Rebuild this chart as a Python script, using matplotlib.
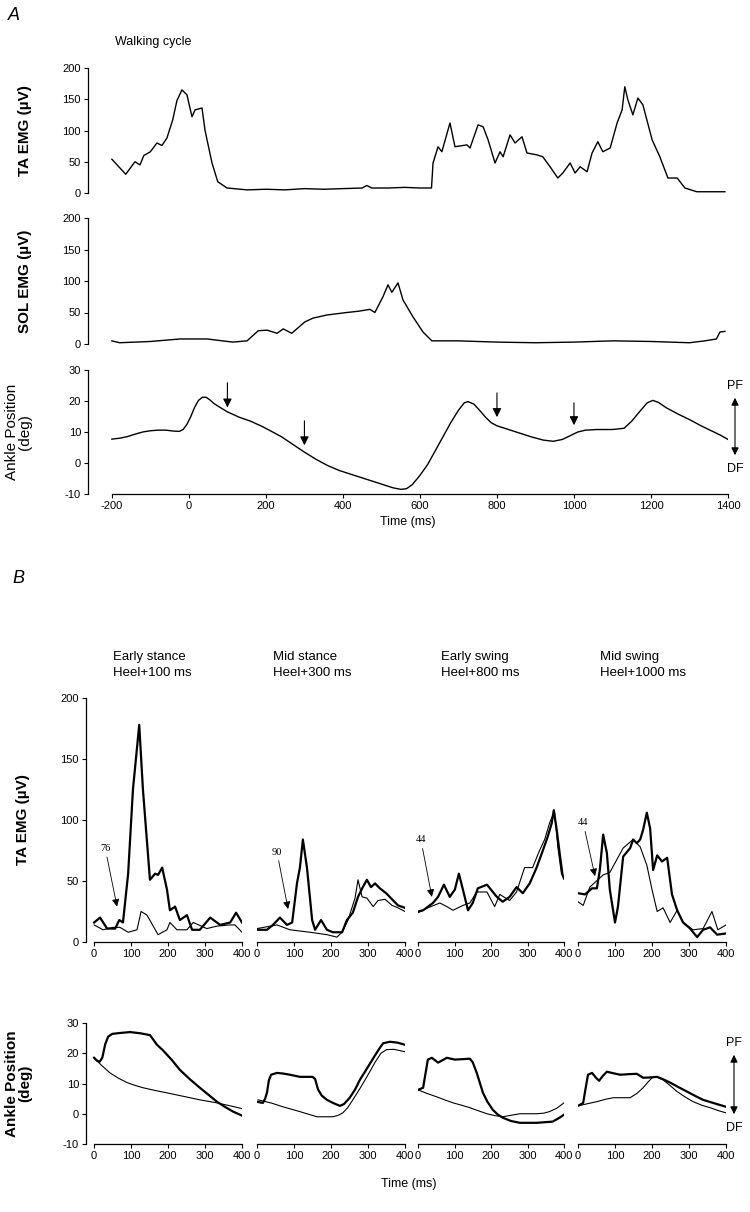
import matplotlib
matplotlib.use("Agg")
import matplotlib.pyplot as plt
import numpy as np

W, H = 750, 1212
NARROW = ['Liberation Sans Narrow', 'Liberation Sans', 'DejaVu Sans']
ARIAL = ['Liberation Sans', 'DejaVu Sans']
SERIF = ['Liberation Serif', 'DejaVu Serif']
plt.rcParams['font.family'] = NARROW
plt.rcParams['axes.unicode_minus'] = False

# ---- panel A: walking cycle ----
ta_a_t = [-200, -164, -140, -127, -117, -100, -83, -70, -57, -42, -31, -18, -5, 8, 16, 34, 42, 60, 75, 99,
          151, 200, 250, 300, 350, 400, 450, 462, 475, 520, 560, 600, 630,
          634, 647, 657, 678, 691, 722, 730, 751, 764, 777, 795, 808, 816, 834, 847, 865, 878, 904, 919,
          938, 958, 971, 990, 1003, 1016, 1034, 1047, 1062, 1075, 1094, 1112, 1125, 1132, 1140, 1153,
          1166, 1179, 1203, 1223, 1244, 1268, 1288, 1319, 1360, 1392]
ta_a_v = [54, 30, 50, 45, 60, 66, 80, 76, 88, 117, 148, 165, 157, 122, 133, 136, 100, 48, 18, 8,
          5, 6, 5, 7, 6, 7, 8, 12, 8, 8, 9, 8, 8,
          48, 74, 66, 112, 74, 77, 72, 109, 106, 85, 48, 66, 58, 93, 80, 90, 64, 61, 58,
          42, 24, 32, 48, 32, 42, 34, 64, 82, 66, 72, 112, 133, 170, 149, 125,
          152, 141, 85, 58, 24, 24, 8, 2, 2, 2]

sol_a_t = [-200, -180, -100, -23, 47, 114, 151, 180, 203, 229, 245, 267, 301, 322, 358, 384, 410, 440, 470,
           483, 504, 517, 527, 543, 556, 582, 608, 631, 700, 800, 900, 1000, 1100, 1200, 1300, 1340, 1370, 1379, 1392]
sol_a_v = [5, 2, 4, 8, 8, 3, 5, 21, 22, 17, 24, 17, 35, 41, 46, 48, 50, 52, 55,
           50, 75, 94, 82, 97, 70, 43, 19, 5, 5, 3, 2, 3, 5, 4, 2, 5, 8, 19, 20]

ank_a_t = [-200, -180, -160, -140, -120, -100, -80, -60, -40, -25, -15, -5, 5, 15, 25, 35, 45, 55, 65, 80,
           100, 130, 160, 190, 210, 240, 270, 300, 330, 360, 390, 420, 450, 480, 510, 530, 550, 565, 580,
           600, 620, 640, 660, 680, 700, 715, 725, 740, 755, 770, 785, 800, 830, 860, 890, 920, 946, 970,
           990, 1010, 1030, 1060, 1100, 1130, 1150, 1170, 1190, 1205, 1220, 1240, 1270, 1300, 1330, 1360,
           1380, 1400]
ank_a_v = [7.7, 8.0, 8.5, 9.3, 10.0, 10.4, 10.6, 10.6, 10.3, 10.2, 10.8, 12.5, 15.0, 18.0, 20.2, 21.2, 21.2,
           20.3, 19.2, 18.0, 16.5, 14.8, 13.5, 11.8, 10.5, 8.5, 6.0, 3.5, 1.2, -0.8, -2.4, -3.6, -4.8, -6.0,
           -7.2, -8.0, -8.5, -8.3, -7.0, -4.0, -0.5, 4.0, 8.5, 13.0, 17.0, 19.4, 19.8, 19.0, 17.0, 14.8,
           13.0, 12.0, 10.8, 9.6, 8.4, 7.4, 7.0, 7.6, 8.8, 10.0, 10.6, 10.8, 10.8, 11.2, 13.5, 16.5, 19.4,
           20.2, 19.5, 17.8, 15.8, 14.0, 12.0, 10.2, 9.0, 7.6]

stim_times = [100, 300, 800, 1000]
stim_arrow = [(26.8, 17.0), (14.5, 4.8), (23.5, 13.9), (20.3, 11.3)]

# ---- panel B: responses at four phases ----
phase_names = ['Early stance\nHeel+100 ms', 'Mid stance\nHeel+300 ms',
               'Early swing\nHeel+800 ms', 'Mid swing\nHeel+1000 ms']
latency_labels = ['76', '90', '44', '44']

ta_b_thick_t = [
    [0, 16, 35, 57, 68, 78, 92, 105, 122, 132, 151, 165, 173, 184, 197, 205, 219, 232, 251, 265, 286, 314, 341, 368, 384, 400],
    [0, 27, 43, 62, 81, 95, 108, 116, 124, 135, 149, 157, 173, 189, 205, 230, 243, 259, 273, 286, 297, 308, 319, 332, 349, 365, 381, 400],
    [0, 14, 41, 55, 71, 87, 101, 112, 123, 137, 150, 164, 189, 197, 216, 232, 251, 270, 287, 306, 325, 342, 355, 366, 372, 380, 388, 396, 400],
    [0, 19, 38, 51, 59, 68, 78, 86, 100, 108, 122, 141, 149, 159, 168, 176, 186, 195, 203, 214, 227, 241, 254, 268, 284, 303, 322, 338, 357, 376, 400],
]
ta_b_thick_v = [
    [16, 20, 11, 11, 18, 16, 56, 125, 178, 125, 51, 56, 55, 61, 43, 26, 29, 18, 22, 10, 10, 20, 14, 16, 24, 16],
    [10, 10, 14, 20, 14, 16, 48, 61, 84, 61, 18, 10, 18, 10, 8, 8, 18, 24, 37, 45, 51, 45, 48, 44, 40, 35, 30, 28],
    [25, 26, 32, 37, 47, 37, 43, 56, 43, 26, 32, 44, 47, 44, 37, 33, 37, 45, 40, 48, 61, 75, 86, 97, 108, 92, 73, 55, 52],
    [40, 39, 44, 44, 59, 88, 73, 43, 16, 29, 70, 77, 84, 81, 84, 92, 106, 93, 59, 71, 66, 69, 39, 26, 16, 11, 4, 10, 12, 6, 7],
]
ta_b_thin_t = [
    [0, 24, 51, 70, 92, 116, 127, 143, 173, 197, 205, 224, 251, 268, 305, 332, 368, 381, 400],
    [0, 54, 89, 143, 189, 216, 230, 246, 265, 273, 284, 297, 314, 327, 346, 365, 381, 400],
    [0, 27, 60, 79, 96, 123, 142, 161, 189, 210, 224, 251, 270, 292, 314, 333, 347, 361, 374, 383, 393, 400],
    [0, 14, 32, 68, 86, 122, 149, 168, 186, 200, 214, 230, 249, 268, 284, 311, 338, 362, 378, 400],
]
ta_b_thin_v = [
    [14, 10, 12, 12, 8, 10, 25, 22, 6, 10, 16, 10, 10, 16, 11, 13, 14, 14, 8],
    [11, 14, 10, 8, 6, 4, 8, 18, 36, 51, 37, 36, 29, 34, 35, 30, 28, 25],
    [24, 28, 32, 29, 26, 30, 32, 41, 41, 29, 39, 34, 41, 61, 61, 75, 84, 98, 107, 78, 56, 53],
    [33, 30, 45, 55, 57, 77, 84, 78, 63, 43, 25, 28, 16, 26, 16, 10, 11, 25, 10, 14],
]
latency_text = [(30, 73), (54, 70), (8, 80), (14, 94)]
latency_head = [(62, 29), (84, 27), (38, 37), (46, 54)]

ank_b_thick_t = [
    [0, 8, 15, 22, 30, 38, 49, 70, 97, 125, 151, 160, 170, 186, 210, 232, 260, 286, 310, 332, 355, 376, 400],
    [0, 10, 16, 22, 27, 32, 38, 54, 70, 89, 116, 150, 157, 165, 175, 189, 205, 224, 235, 250, 265, 278, 300,
     320, 332, 341, 359, 380, 400],
    [0, 14, 27, 38, 55, 79, 101, 142, 150, 161, 170, 178, 190, 205, 218, 232, 255, 279, 325, 369, 388, 400],
    [0, 14, 20, 27, 38, 48, 57, 67, 78, 95, 114, 140, 159, 176, 195, 214, 230, 249, 270, 295, 315, 338, 370, 400],
]
ank_b_thick_v = [
    [18.5, 17.5, 17.2, 18.5, 23.0, 25.5, 26.4, 26.7, 27.0, 26.6, 26.0, 24.5, 22.8, 21.0, 17.8, 14.5, 11.3,
     8.6, 6.2, 4.0, 2.2, 0.7, -0.6],
    [4.0, 3.7, 3.6, 5.0, 7.0, 11.0, 12.9, 13.5, 13.3, 12.9, 12.2, 12.2, 11.5, 8.0, 6.0, 4.6, 3.6, 2.6, 3.2,
     5.2, 8.0, 11.2, 15.5, 19.5, 21.8, 23.3, 23.8, 23.5, 22.8],
    [7.9, 8.6, 17.9, 18.5, 16.9, 18.5, 17.9, 18.2, 17.0, 13.5, 10.0, 6.9, 4.0, 1.3, -0.2, -1.3, -2.4, -3.0,
     -3.0, -2.6, -1.3, -0.3],
    [2.6, 3.6, 8.0, 12.9, 13.5, 12.0, 10.9, 12.5, 13.9, 13.4, 12.9, 13.1, 13.2, 11.9, 12.0, 12.2, 11.4, 10.3,
     8.9, 7.3, 6.0, 4.6, 3.4, 2.3],
]
ank_b_thin_t = [
    [0, 20, 43, 65, 89, 110, 132, 165, 197, 240, 286, 332, 365, 400],
    [3, 40, 70, 116, 162, 205, 220, 232, 245, 259, 278, 297, 319, 335, 350, 370, 400],
    [0, 25, 51, 75, 96, 120, 142, 165, 189, 210, 232, 255, 279, 325, 345, 360, 380, 400],
    [0, 25, 51, 75, 95, 120, 141, 160, 176, 190, 203, 215, 230, 250, 268, 290, 311, 335, 357, 380, 400],
]
ank_b_thin_v = [
    [18.5, 16.0, 13.5, 11.8, 10.3, 9.4, 8.6, 7.7, 6.9, 5.8, 4.6, 3.6, 2.7, 1.7],
    [4.6, 3.5, 2.3, 0.7, -1.0, -1.0, -0.5, 0.3, 2.0, 4.6, 8.3, 12.2, 17.0, 20.0, 21.2, 21.3, 20.5],
    [7.9, 6.7, 5.6, 4.5, 3.6, 2.8, 2.0, 1.0, 0.0, -0.6, -1.0, -0.5, 0.0, 0.0, 0.2, 0.7, 1.8, 3.6],
    [2.6, 3.3, 4.0, 4.8, 5.3, 5.3, 5.3, 6.8, 8.6, 10.6, 12.2, 12.0, 11.2, 9.2, 7.3, 5.5, 4.0, 2.8, 2.0, 1.0, 0.3],
]


def rect(l, t, r, b):
    return [l / W, 1 - b / H, (r - l) / W, (b - t) / H]


def fx(px):
    return px / W


def fy(py):
    return 1 - py / H


def style_axis(ax, show_left=True, show_bottom=True):
    for s in ['top', 'right']:
        ax.spines[s].set_visible(False)
    ax.spines['left'].set_visible(show_left)
    ax.spines['bottom'].set_visible(show_bottom)
    ax.spines['left'].set_linewidth(0.9)
    ax.spines['bottom'].set_linewidth(0.9)
    ax.tick_params(direction='out', length=3, width=0.8, labelsize=8, pad=2)
    if not show_left:
        ax.set_yticks([])
    if not show_bottom:
        ax.set_xticks([])
    ax.patch.set_alpha(0)


fig = plt.figure(figsize=(W / 100, H / 100), dpi=100)

# --- A ---
axA1 = fig.add_axes(rect(88, 68, 728, 193))
axA2 = fig.add_axes(rect(88, 218, 728, 344))
axA3 = fig.add_axes(rect(88, 370, 728, 494))
for ax in (axA1, axA2):
    ax.set_xlim(-262, 1400)
    ax.set_ylim(0, 200)
    ax.set_yticks([0, 50, 100, 150, 200])
    style_axis(ax, show_bottom=False)
axA1.plot(ta_a_t, ta_a_v, color='k', lw=1.0)
axA2.plot(sol_a_t, sol_a_v, color='k', lw=1.0)

axA3.set_xlim(-262, 1400)
axA3.set_ylim(-10, 30)
axA3.set_yticks([-10, 0, 10, 20, 30])
axA3.set_xticks(np.arange(-200, 1401, 200))
style_axis(axA3)
axA3.spines['bottom'].set_bounds(-200, 1400)
axA3.plot(ank_a_t, ank_a_v, color='k', lw=1.0)
for t, (v0, v1) in zip(stim_times, stim_arrow):
    axA3.annotate('', xy=(t, v1), xytext=(t, v0),
                  arrowprops=dict(arrowstyle='-|>', color='k', lw=0.8, mutation_scale=13))

axA1.set_ylabel('TA EMG (µV)', family=ARIAL, fontweight='bold', fontsize=11)
axA2.set_ylabel('SOL EMG (µV)', family=ARIAL, fontweight='bold', fontsize=11)
axA3.set_ylabel('Ankle Position\n(deg)', family=ARIAL, fontsize=11, linespacing=0.95)
for ax in (axA1, axA2, axA3):
    ax.yaxis.set_label_coords(-(88 - 32) / 640, 0.5)
axA3.set_xlabel('Time (ms)', fontsize=9, labelpad=4)

fig.text(fx(8), fy(15), 'A', fontsize=13, style='italic', family=ARIAL, va='center')
fig.text(fx(115), fy(42), 'Walking cycle', fontsize=9, va='center')


# PF / DF double arrow
def pf_df(x, top, bot):
    fig.add_artist(matplotlib.patches.FancyArrowPatch(
        (fx(x), fy(bot)), (fx(x), fy(top)), transform=fig.transFigure,
        arrowstyle='<|-|>', mutation_scale=11, lw=0.8, color='k'))
    fig.text(fx(x), fy(top - 9), 'PF', fontsize=9, ha='center', va='center')
    fig.text(fx(x), fy(bot + 11), 'DF', fontsize=9, ha='center', va='center')


pf_df(735, 395, 458)

# --- B ---
lefts = [86, 257, 418, 578]
rights = [242, 405, 564, 726]
for i in range(4):
    l, r = lefts[i], rights[i]
    xmin = -22 if i == 0 else 0
    axT = fig.add_axes(rect(l, 698, r, 942))
    axK = fig.add_axes(rect(l, 1023, r, 1144))
    for ax in (axT, axK):
        ax.set_xlim(xmin, 400)
        ax.set_xticks([0, 100, 200, 300, 400])
        style_axis(ax, show_left=(i == 0))
        ax.spines['bottom'].set_bounds(0, 400)
    axT.set_ylim(0, 200)
    axK.set_ylim(-10, 30)
    if i == 0:
        axT.set_yticks([0, 50, 100, 150, 200])
        axK.set_yticks([-10, 0, 10, 20, 30])
        axT.set_ylabel('TA EMG (µV)', family=ARIAL, fontweight='bold', fontsize=11)
        axK.set_ylabel('Ankle Position\n(deg)', family=ARIAL, fontweight='bold', fontsize=11,
                       linespacing=0.95)
        axT.yaxis.set_label_coords(-(86 - 30) / 156, 0.5)
        axK.yaxis.set_label_coords(-(86 - 32) / 156, 0.5)
    axT.plot(ta_b_thin_t[i], ta_b_thin_v[i], color='k', lw=0.8)
    axT.plot(ta_b_thick_t[i], ta_b_thick_v[i], color='k', lw=1.6)
    axK.plot(ank_b_thin_t[i], ank_b_thin_v[i], color='k', lw=0.8)
    axK.plot(ank_b_thick_t[i], ank_b_thick_v[i], color='k', lw=1.6)
    axT.annotate(latency_labels[i], xy=latency_head[i], xytext=latency_text[i],
                 fontsize=7.5, family=SERIF, ha='center', va='bottom',
                 arrowprops=dict(arrowstyle='-|>', color='k', lw=0.6, mutation_scale=11,
                                 shrinkA=1, shrinkB=0))
    title_x = [113, 273, 441, 600][i]
    fig.text(fx(title_x), fy(665), phase_names[i], fontsize=9.5, va='center', linespacing=1.5)

fig.text(fx(12), fy(578), 'B', fontsize=13, style='italic', family=ARIAL, va='center')
fig.text(fx(409), fy(1184), 'Time (ms)', fontsize=9, ha='center', va='center')
pf_df(734, 1052, 1117)

fig.savefig('out.png', dpi=100)
